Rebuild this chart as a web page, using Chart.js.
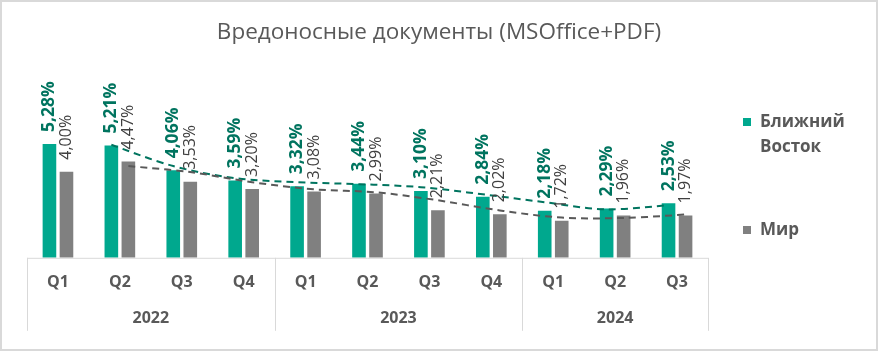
<!DOCTYPE html>
<html>
<head>
<meta charset="utf-8">
<script src="https://cdn.jsdelivr.net/npm/chart.js@4.4.1/dist/chart.umd.min.js"></script>
<style>
  html, body { margin: 0; padding: 0; background: #fff; }
</style>
</head>
<body>
<canvas id="myChart" width="878" height="351"></canvas>
<script>
// data
const quarters = ['Q1', 'Q2', 'Q3', 'Q4', 'Q1', 'Q2', 'Q3', 'Q4', 'Q1', 'Q2', 'Q3']
const years = ['2022', '2023', '2024']
const yearSizes = [4, 4, 3]
const middleEast = [5.28, 5.21, 4.06, 3.59, 3.32, 3.44, 3.10, 2.84, 2.18, 2.29, 2.53]
const world = [4.00, 4.47, 3.53, 3.20, 3.08, 2.99, 2.21, 2.02, 1.72, 1.96, 1.97]
// trend lines (Excel trendline, read at each quarter)
const middleEastTrend = [null, 5.25, 4.26, 3.70, 3.51, 3.42, 3.28, 2.95, 2.58, 2.25, 2.45]
const worldTrend = [null, 4.26, 3.98, 3.51, 3.18, 3.04, 2.67, 2.20, 1.87, 1.85, 2.01]

const GREEN = '#00A88E'
const GREEN_DARK = '#00745F'
const GREY = '#808080'
const FONT = "'Open Sans', sans-serif"

const valueLabels = {
    id: 'valueLabels',
    afterDatasetsDraw(chart) {
        const ctx = chart.ctx
        ;[0, 1].forEach(di => {
            const meta = chart.getDatasetMeta(di)
            const ds = chart.data.datasets[di]
            meta.data.forEach((bar, i) => {
                ctx.save()
                ctx.translate(bar.x, bar.y - 12)
                ctx.rotate(-Math.PI / 2)
                ctx.textAlign = 'left'
                ctx.textBaseline = 'middle'
                if (di === 0) {
                    ctx.font = "bold 17.5px " + FONT
                    ctx.fillStyle = GREEN_DARK
                } else {
                    ctx.font = "16px " + FONT
                    ctx.fillStyle = '#404040'
                }
                ctx.fillText(ds.data[i].toFixed(2).replace('.', ',') + '%', 0, 0)
                ctx.restore()
            })
        })
    }
}

// dashed trend curves, placed at each bar's centre through the y scale
const trendLines = {
    id: 'trendLines',
    afterDatasetsDraw(chart) {
        const ctx = chart.ctx
        const y = chart.scales.y
        const trends = [[middleEastTrend, GREEN_DARK], [worldTrend, '#595959']]
        trends.forEach(([values, color], di) => {
            const bars = chart.getDatasetMeta(di).data
            let pts = []
            values.forEach((v, i) => {
                if (v !== null) pts.push({ x: bars[i].x, y: y.getPixelForValue(v) })
            })
            ctx.save()
            ctx.strokeStyle = color
            ctx.lineWidth = 2
            ctx.setLineDash([7, 5])
            ctx.beginPath()
            ctx.moveTo(pts[0].x, pts[0].y)
            for (let i = 0; i < pts.length - 1; i++) {
                const p0 = pts[Math.max(i - 1, 0)]
                const p1 = pts[i]
                const p2 = pts[i + 1]
                const p3 = pts[Math.min(i + 2, pts.length - 1)]
                ctx.bezierCurveTo(
                    p1.x + (p2.x - p0.x) / 6, p1.y + (p2.y - p0.y) / 6,
                    p2.x - (p3.x - p1.x) / 6, p2.y - (p3.y - p1.y) / 6,
                    p2.x, p2.y
                )
            }
            ctx.stroke()
            ctx.restore()
        })
    }
}

const decorations = {
    id: 'decorations',
    afterDraw(chart) {
        const ctx = chart.ctx
        const x = chart.scales.x
        const area = chart.chartArea
        const half = (x.getPixelForValue(1) - x.getPixelForValue(0)) / 2
        ctx.save()
        // title
        ctx.font = "22.5px " + FONT
        ctx.fillStyle = '#595959'
        ctx.textAlign = 'center'
        ctx.textBaseline = 'middle'
        ctx.fillText('Вредоносные документы (MSOffice+PDF)', chart.width / 2, 33)
        ctx.strokeStyle = '#D9D9D9'
        ctx.lineWidth = 1
        // axis line
        ctx.beginPath()
        ctx.moveTo(area.left, area.bottom + 0.5)
        ctx.lineTo(area.right, area.bottom + 0.5)
        ctx.stroke()
        // year groups
        let start = 0
        ctx.font = "bold 16px " + FONT
        years.forEach((yr, k) => {
            const left = x.getPixelForValue(start) - half
            const right = x.getPixelForValue(start + yearSizes[k] - 1) + half
            ctx.beginPath()
            ctx.moveTo(Math.round(left) + 0.5, area.bottom)
            ctx.lineTo(Math.round(left) + 0.5, area.bottom + 73)
            ctx.stroke()
            if (k === years.length - 1) {
                ctx.beginPath()
                ctx.moveTo(Math.round(right) + 0.5, area.bottom)
                ctx.lineTo(Math.round(right) + 0.5, area.bottom + 73)
                ctx.stroke()
            }
            ctx.fillText(yr, (left + right) / 2, area.bottom + 61)
            start += yearSizes[k]
        })
        // legend
        ctx.textAlign = 'left'
        ctx.font = "bold 17px " + FONT
        ctx.fillStyle = GREEN
        ctx.fillRect(743, 118, 8, 8)
        ctx.fillStyle = GREY
        ctx.fillRect(743, 226, 8, 8)
        ctx.fillStyle = '#595959'
        ctx.fillText('Ближний', 760, 122)
        ctx.fillText('Восток', 760, 147)
        ctx.fillText('Мир', 760, 230)
        // outer border
        ctx.strokeStyle = '#D9D9D9'
        ctx.lineWidth = 2
        ctx.strokeRect(1, 1, chart.width - 2, chart.height - 2)
        ctx.restore()
    }
}

const data = {
    labels: quarters,
    datasets: [
        {
            label: 'Ближний Восток',
            data: middleEast,
            backgroundColor: GREEN,
            barPercentage: 0.8,
            categoryPercentage: 0.55
        },
        {
            label: 'Мир',
            data: world,
            backgroundColor: GREY,
            barPercentage: 0.8,
            categoryPercentage: 0.55
        }
    ]
}

const config = {
    type: 'bar',
    data,
    options: {
        responsive: false,
        animation: false,
        layout: { padding: { left: 27, right: 170, top: 64, bottom: 44 } },
        plugins: {
            legend: { display: false },
            tooltip: { enabled: false },
            title: { display: false }
        },
        scales: {
            x: {
                grid: { display: false, drawTicks: false },
                border: { display: false },
                ticks: {
                    color: '#595959',
                    font: { family: FONT, size: 16, weight: 'bold' },
                    padding: 15,
                    maxRotation: 0
                }
            },
            y: {
                display: false,
                min: 0,
                max: 9
            }
        }
    },
    plugins: [trendLines, valueLabels, decorations]
}

new Chart(document.getElementById('myChart'), config)
</script>
</body>
</html>
